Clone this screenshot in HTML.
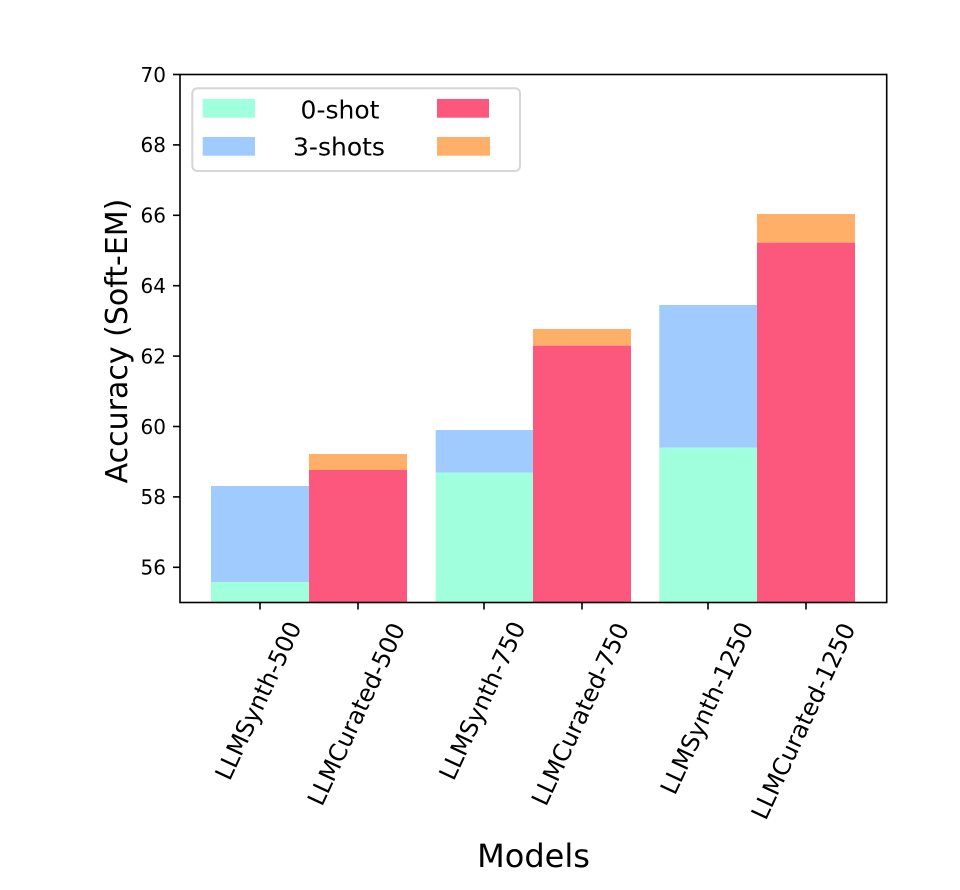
<!DOCTYPE html>
<html>
<head>
<meta charset="utf-8">
<style>
  html, body { margin: 0; padding: 0; background: #ffffff; }
  svg { display: block; }
  text { font-family: "DejaVu Sans", "Liberation Sans", sans-serif; fill: #000; }
</style>
</head>
<body>
<svg width="960" height="890" viewBox="0 0 960 890" xmlns="http://www.w3.org/2000/svg">
  <rect x="0" y="0" width="960" height="890" fill="#ffffff"/>

  <!-- Bars: LLMSynth-500 -->
  <rect x="211" y="486" width="98" height="96" fill="#9fcbff"/>
  <rect x="211" y="582" width="98" height="20.5" fill="#a0ffdc"/>
  <!-- LLMCurated-500 -->
  <rect x="309" y="454" width="98" height="16" fill="#ffaf68"/>
  <rect x="309" y="470" width="98" height="132.5" fill="#fc587e"/>
  <!-- LLMSynth-750 -->
  <rect x="435.7" y="430" width="97.5" height="42.7" fill="#9fcbff"/>
  <rect x="435.7" y="472.7" width="97.5" height="129.8" fill="#a0ffdc"/>
  <!-- LLMCurated-750 -->
  <rect x="533" y="329" width="98" height="16.7" fill="#ffaf68"/>
  <rect x="533" y="345.7" width="98" height="256.8" fill="#fc587e"/>
  <!-- LLMSynth-1250 -->
  <rect x="659.3" y="305" width="97.7" height="142.7" fill="#9fcbff"/>
  <rect x="659.3" y="447.7" width="97.7" height="154.8" fill="#a0ffdc"/>
  <!-- LLMCurated-1250 -->
  <rect x="757" y="214" width="98" height="28.7" fill="#ffaf68"/>
  <rect x="757" y="242.7" width="98" height="359.8" fill="#fc587e"/>

  <!-- Axes spines -->
  <rect x="180" y="74.5" width="706.7" height="528" fill="none" stroke="#000" stroke-width="1.6"/>

  <!-- Y ticks -->
  <g stroke="#000" stroke-width="1.6">
    <line x1="173" y1="567.3" x2="180" y2="567.3"/>
    <line x1="173" y1="496.9" x2="180" y2="496.9"/>
    <line x1="173" y1="426.5" x2="180" y2="426.5"/>
    <line x1="173" y1="356.1" x2="180" y2="356.1"/>
    <line x1="173" y1="285.7" x2="180" y2="285.7"/>
    <line x1="173" y1="215.3" x2="180" y2="215.3"/>
    <line x1="173" y1="144.9" x2="180" y2="144.9"/>
    <line x1="173" y1="74.5" x2="180" y2="74.5"/>
  </g>
  <g font-size="20" text-anchor="end">
    <text x="166" y="574.6">56</text>
    <text x="166" y="504.2">58</text>
    <text x="166" y="433.8">60</text>
    <text x="166" y="363.4">62</text>
    <text x="166" y="293.0">64</text>
    <text x="166" y="222.6">66</text>
    <text x="166" y="152.2">68</text>
    <text x="166" y="81.8">70</text>
  </g>

  <!-- X ticks -->
  <g stroke="#000" stroke-width="1.6">
    <line x1="260" y1="602.5" x2="260" y2="609.5"/>
    <line x1="358" y1="602.5" x2="358" y2="609.5"/>
    <line x1="484" y1="602.5" x2="484" y2="609.5"/>
    <line x1="582" y1="602.5" x2="582" y2="609.5"/>
    <line x1="708" y1="602.5" x2="708" y2="609.5"/>
    <line x1="806" y1="602.5" x2="806" y2="609.5"/>
  </g>
  <g font-size="24" text-anchor="middle">
    <text x="258" y="709.1" transform="rotate(-65 258 700.5)">LLMSynth-500</text>
    <text x="356" y="722.6" transform="rotate(-65 356 714)">LLMCurated-500</text>
    <text x="482" y="709.1" transform="rotate(-65 482 700.5)">LLMSynth-750</text>
    <text x="580" y="722.6" transform="rotate(-65 580 714)">LLMCurated-750</text>
    <text x="706.5" y="716.6" transform="rotate(-65 706.5 708)">LLMSynth-1250</text>
    <text x="803" y="729.6" transform="rotate(-65 803 721)">LLMCurated-1250</text>
  </g>

  <!-- Axis labels -->
  <text x="533.5" y="867" font-size="32" text-anchor="middle">Models</text>
  <text x="0" y="0" font-size="30" text-anchor="middle" transform="translate(127 341) rotate(-90)">Accuracy (Soft-EM)</text>

  <!-- Legend -->
  <rect x="192.3" y="88.3" width="327.7" height="82.7" rx="5" ry="5" fill="#ffffff" fill-opacity="0.8" stroke="#d6d6d6" stroke-width="2"/>
  <rect x="202.7" y="99" width="52.3" height="18.7" fill="#a0ffdc"/>
  <rect x="202.7" y="137" width="52.3" height="18.7" fill="#9fcbff"/>
  <rect x="437" y="99" width="52" height="18.7" fill="#fc587e"/>
  <rect x="437" y="137" width="53" height="18.7" fill="#ffaf68"/>
  <g font-size="25" text-anchor="middle">
    <text x="340" y="118.3">0-shot</text>
    <text x="339" y="155.7">3-shots</text>
  </g>
</svg>
</body>
</html>
